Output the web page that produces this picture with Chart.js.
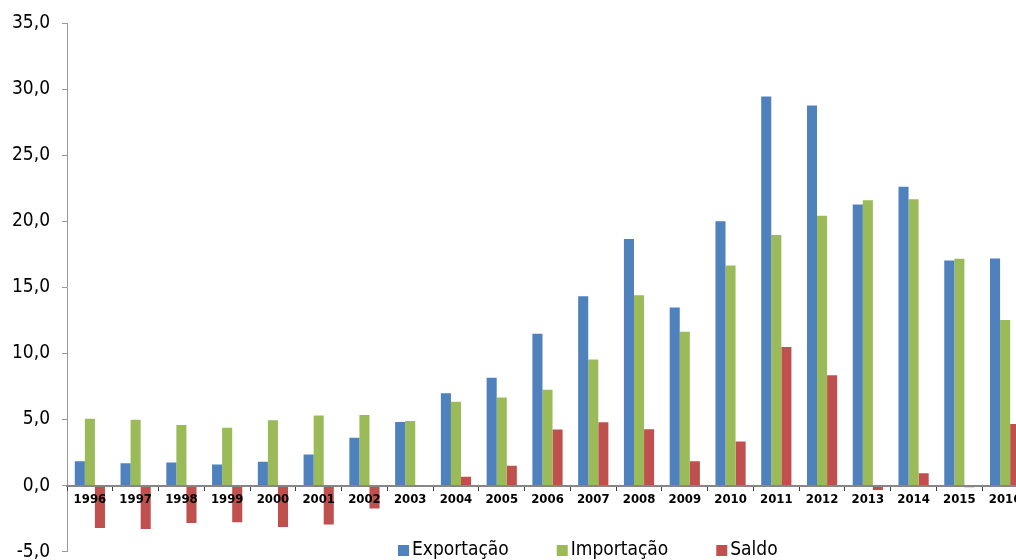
<!DOCTYPE html>
<html>
<head>
<meta charset="utf-8">
<script src="https://cdn.jsdelivr.net/npm/chart.js@4.4.1/dist/chart.umd.min.js"></script>
<style>
  html, body { margin: 0; padding: 0; background: #fff; overflow: hidden; width: 1016px; height: 560px; }
  #wrap { position: absolute; left: 0; top: 0; width: 1040px; height: 575px; }
</style>
</head>
<body>
<div id="wrap"><canvas id="c" width="1040" height="575"></canvas></div>
<script>
// Anos
const years = ['1996','1997','1998','1999','2000','2001','2002','2003','2004','2005','2006',
               '2007','2008','2009','2010','2011','2012','2013','2014','2015','2016'];

// Valores (US$ bilhões)
const exportacao = [1.85, 1.70, 1.75, 1.60, 1.80, 2.36, 3.62, 4.82, 7.00, 8.17, 11.49,
                    14.33, 18.67, 13.49, 20.01, 29.47, 28.79, 21.28, 22.63, 17.05, 17.20];
const importacao = [5.07, 4.99, 4.59, 4.38, 4.94, 5.30, 5.35, 4.89, 6.34, 6.67, 7.25,
                    9.54, 14.41, 11.64, 16.67, 18.97, 20.44, 21.61, 21.69, 17.17, 12.53];
const saldo      = [-3.22, -3.29, -2.84, -2.78, -3.14, -2.94, -1.73, -0.07, 0.66, 1.50, 4.24,
                    4.79, 4.26, 1.85, 3.34, 10.50, 8.35, -0.33, 0.94, -0.12, 4.67];

// Eixo vertical
const yMin = -5, yMax = 35, yStep = 5;

const seriesNames  = ['Exportação', 'Importação', 'Saldo'];
const seriesColors = ['#4F81BD', '#9BBB59', '#C0504D'];

const FONT = '"DejaVu Sans Condensed", "DejaVu Sans", sans-serif';

// Legenda desenhada sob o gráfico, alinhada à base do eixo
const bottomLegend = {
  id: 'bottomLegend',
  afterDraw(chart) {
    const ctx = chart.ctx;
    ctx.save();
    ctx.font = '19px ' + FONT;
    ctx.textBaseline = 'middle';
    ctx.textAlign = 'left';
    let x = 398;
    const y = 550;
    chart.data.datasets.forEach(ds => {
      ctx.fillStyle = ds.backgroundColor;
      ctx.fillRect(x, y - 5, 11, 11);
      ctx.fillStyle = '#000';
      ctx.fillText(ds.label, x + 14, y);
      x += 14 + ctx.measureText(ds.label).width + 48;
    });
    ctx.restore();
  }
};

const ctx = document.getElementById('c').getContext('2d');
new Chart(ctx, {
  type: 'bar',
  data: {
    labels: years,
    datasets: [
      { label: seriesNames[0], data: exportacao, backgroundColor: seriesColors[0] },
      { label: seriesNames[1], data: importacao, backgroundColor: seriesColors[1] },
      { label: seriesNames[2], data: saldo,      backgroundColor: seriesColors[2] }
    ]
  },
  options: {
    responsive: false,
    animation: false,
    devicePixelRatio: 1,
    layout: { padding: { left: 0, right: 12, top: 23, bottom: 10 } },
    datasets: {
      bar: { categoryPercentage: 0.66, barPercentage: 1.0, borderWidth: 0 }
    },
    plugins: {
      legend: { display: false },
      title: { display: false },
      tooltip: { enabled: false }
    },
    scales: {
      x: {
        position: { y: 0 },
        offset: true,
        border: { display: true, color: '#868686', width: 2, z: 1 },
        grid: { display: true, drawOnChartArea: false, offset: true, tickLength: 4, color: '#404040', tickWidth: 1, z: 1 },
        ticks: {
          z: 1,
          color: '#000',
          font: { family: FONT, size: 13, weight: 'bold' },
          padding: 2,
          maxRotation: 0,
          autoSkip: false
        }
      },
      y: {
        min: yMin,
        max: yMax,
        border: { display: true, color: '#9a9a9a', width: 1 },
        grid: { display: true, drawOnChartArea: false, tickLength: 5, color: '#9a9a9a' },
        ticks: {
          stepSize: yStep,
          color: '#000',
          padding: 12,
          font: { family: FONT, size: 19 },
          callback: v => v.toFixed(1).replace('.', ',')
        },
        afterFit(scale) { scale.width = 67; }
      }
    }
  },
  plugins: [bottomLegend]
});
</script>
</body>
</html>
